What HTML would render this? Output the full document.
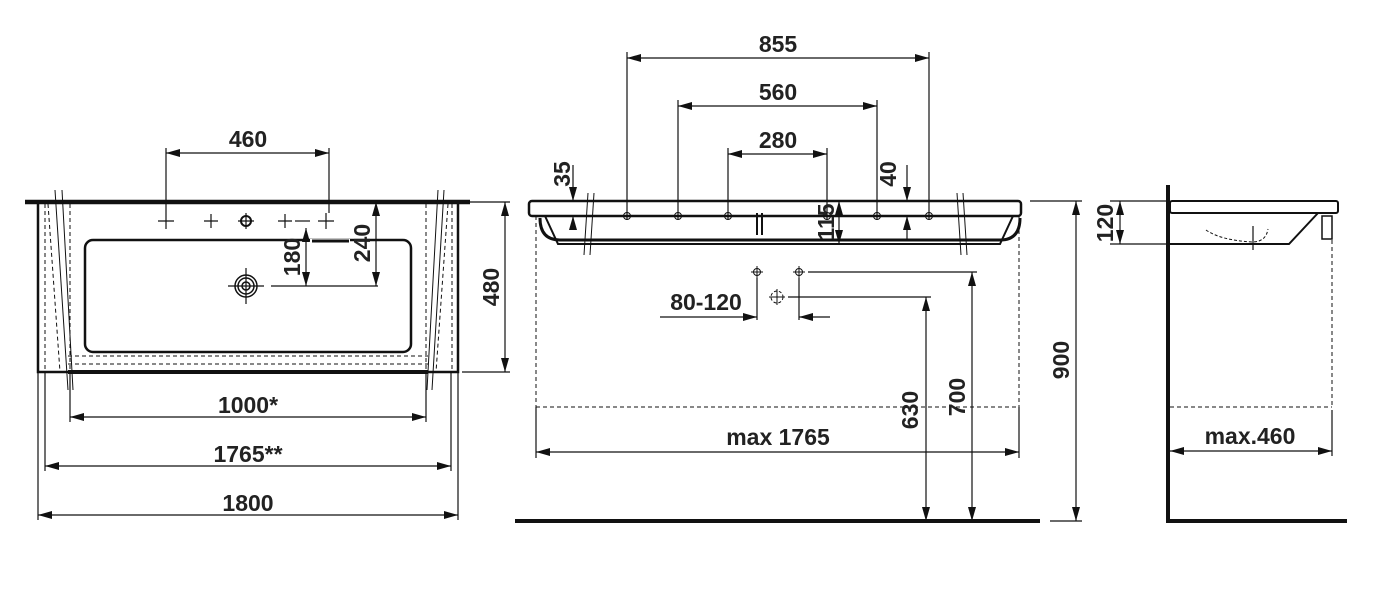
<!DOCTYPE html>
<html><head><meta charset="utf-8"><style>
html,body{margin:0;padding:0;background:#fff;}
svg{display:block;}
text{font-family:"Liberation Sans Narrow","Liberation Sans",sans-serif;font-weight:bold;font-size:23px;fill:#222;}
</style></head><body>
<svg width="1380" height="598" viewBox="0 0 1380 598" xmlns="http://www.w3.org/2000/svg">
<defs>
<marker id="a" viewBox="0 0 14 8" refX="14" refY="4" markerWidth="14" markerHeight="8" markerUnits="userSpaceOnUse" orient="auto-start-reverse"><path d="M0,0 L14,4 L0,8 Z" fill="#111"/></marker>
</defs>
<g stroke="#111" fill="none" stroke-width="1.2">
<line x1="25" y1="202" x2="470" y2="202" stroke-width="4.5"/>
<path d="M38,202 V372 H458 V202" stroke-width="2.5"/>
<line x1="68" y1="372" x2="428" y2="372" stroke-width="4"/>
<rect x="85" y="240" width="326" height="112" rx="8" stroke-width="2.5"/>
<line x1="310" y1="241" x2="350" y2="241" stroke="#fff" stroke-width="4"/>
<line x1="312" y1="241" x2="349" y2="241" stroke-width="3"/>
<g stroke-dasharray="4,3" stroke-width="1">
<line x1="45" y1="204" x2="45" y2="372"/><line x1="70" y1="204" x2="70" y2="372"/>
<line x1="426" y1="204" x2="426" y2="372"/><line x1="452" y1="204" x2="452" y2="372"/>
<line x1="68" y1="356" x2="428" y2="356"/><line x1="68" y1="364" x2="428" y2="364"/>
<line x1="48" y1="204" x2="60" y2="372"/><line x1="448" y1="204" x2="436" y2="372"/>
</g>
<path d="M55,190 L68,390 M62,190 L73,390 M438,190 L427,390 M444,190 L432,390" stroke-width="1"/>
<path d="M158,221 H174 M166,213 V229 M204,221 H218 M211,214 V228 M278,221 H292 M285,214 V228 M318,221 H334 M326,213 V229 M238,221 H254 M246,213 V229"/>
<circle cx="246" cy="221" r="5" stroke-width="2"/>
<circle cx="246" cy="286" r="11" stroke-width="1.5"/>
<circle cx="246" cy="286" r="8" stroke-width="1.5"/>
<circle cx="246" cy="286" r="4" stroke-width="1.5"/>
<path d="M228,286 H264 M246,268 V304"/>
<line x1="166" y1="148" x2="166" y2="213"/><line x1="329" y1="148" x2="329" y2="213"/>
<line x1="166" y1="153" x2="329" y2="153" marker-start="url(#a)" marker-end="url(#a)"/>
<line x1="306" y1="228" x2="306" y2="286" marker-start="url(#a)" marker-end="url(#a)"/>
<line x1="376" y1="202" x2="376" y2="286" marker-start="url(#a)" marker-end="url(#a)"/>
<line x1="271" y1="286" x2="378" y2="286"/>
<line x1="295" y1="221" x2="310" y2="221"/>
<line x1="462" y1="202" x2="510" y2="202"/><line x1="462" y1="372" x2="510" y2="372"/>
<line x1="505" y1="202" x2="505" y2="372" marker-start="url(#a)" marker-end="url(#a)"/>
<line x1="70" y1="372" x2="70" y2="422"/><line x1="426" y1="372" x2="426" y2="422"/>
<line x1="70" y1="417" x2="426" y2="417" marker-start="url(#a)" marker-end="url(#a)"/>
<line x1="45" y1="372" x2="45" y2="471"/><line x1="451" y1="372" x2="451" y2="471"/>
<line x1="45" y1="466" x2="451" y2="466" marker-start="url(#a)" marker-end="url(#a)"/>
<line x1="38" y1="372" x2="38" y2="520"/><line x1="458" y1="372" x2="458" y2="520"/>
<line x1="38" y1="515" x2="458" y2="515" marker-start="url(#a)" marker-end="url(#a)"/>

<rect x="529" y="201" width="492" height="15" rx="3" stroke-width="2.5"/>
<path d="M545,216 L558,244 H1000 L1013,216" stroke-width="2"/>
<path d="M540,218 Q540,240 560,240 H1000 Q1020,240 1020,218" stroke-width="3"/>
<g stroke-dasharray="4,3" stroke-width="1">
<line x1="536" y1="216" x2="536" y2="407"/><line x1="1019" y1="216" x2="1019" y2="407"/>
<line x1="536" y1="407" x2="1019" y2="407"/>
</g>
<path d="M588,193 L584,255 M594,193 L590,255 M957,193 L961,255 M963,193 L967,255" stroke-width="1"/>
<path d="M757,213 V235 M762,213 V235" stroke-width="2"/>
<line x1="627" y1="52" x2="627" y2="220"/><line x1="929" y1="52" x2="929" y2="220"/>
<line x1="627" y1="58" x2="929" y2="58" marker-start="url(#a)" marker-end="url(#a)"/>
<line x1="678" y1="100" x2="678" y2="220"/><line x1="877" y1="100" x2="877" y2="220"/>
<line x1="678" y1="106" x2="877" y2="106" marker-start="url(#a)" marker-end="url(#a)"/>
<line x1="728" y1="148" x2="728" y2="220"/><line x1="827" y1="148" x2="827" y2="220"/>
<line x1="728" y1="154" x2="827" y2="154" marker-start="url(#a)" marker-end="url(#a)"/>
<g stroke-width="1">
<circle cx="627" cy="216" r="3.5"/><circle cx="678" cy="216" r="3.5"/><circle cx="728" cy="216" r="3.5"/>
<circle cx="827" cy="216" r="3.5"/><circle cx="877" cy="216" r="3.5"/><circle cx="929" cy="216" r="3.5"/>
</g>
<line x1="573" y1="165" x2="573" y2="201" marker-end="url(#a)"/>
<line x1="573" y1="230" x2="573" y2="216" marker-end="url(#a)"/>
<line x1="907" y1="165" x2="907" y2="201" marker-end="url(#a)"/>
<line x1="907" y1="240" x2="907" y2="216" marker-end="url(#a)"/>
<line x1="840" y1="201" x2="860" y2="201"/>
<line x1="839" y1="201" x2="839" y2="244" marker-start="url(#a)" marker-end="url(#a)"/>
<g stroke-width="1">
<circle cx="757" cy="272" r="3.5"/><path d="M751,272 H763 M757,266 V278"/>
<circle cx="799" cy="272" r="3.5"/><path d="M793,272 H805 M799,266 V278"/>
<circle cx="777" cy="297" r="6" stroke-dasharray="3,2"/><path d="M769,297 H785 M777,289 V305"/>
</g>
<line x1="757" y1="278" x2="757" y2="320"/><line x1="799" y1="278" x2="799" y2="320"/>
<line x1="660" y1="317" x2="757" y2="317" marker-end="url(#a)"/>
<line x1="830" y1="317" x2="799" y2="317" marker-end="url(#a)"/>
<line x1="808" y1="272" x2="977" y2="272"/><line x1="788" y1="297" x2="931" y2="297"/>
<line x1="926" y1="297" x2="926" y2="521" marker-start="url(#a)" marker-end="url(#a)"/>
<line x1="972" y1="272" x2="972" y2="521" marker-start="url(#a)" marker-end="url(#a)"/>
<line x1="536" y1="407" x2="536" y2="458"/><line x1="1019" y1="407" x2="1019" y2="458"/>
<line x1="536" y1="452" x2="1019" y2="452" marker-start="url(#a)" marker-end="url(#a)"/>
<line x1="1030" y1="201" x2="1082" y2="201"/>
<line x1="1076" y1="201" x2="1076" y2="521" marker-start="url(#a)" marker-end="url(#a)"/>
<line x1="1050" y1="521" x2="1082" y2="521"/>
<line x1="515" y1="521" x2="1040" y2="521" stroke-width="4"/>

<line x1="1168" y1="185" x2="1168" y2="523" stroke-width="4"/>
<line x1="1166" y1="521" x2="1347" y2="521" stroke-width="4"/>
<rect x="1170" y="201" width="168" height="12" rx="2" stroke-width="2"/>
<path d="M1170,244 H1289 L1318,213" stroke-width="2"/>
<rect x="1322" y="216" width="10" height="23" stroke-width="1.5"/>
<path d="M1206,230 Q1220,240 1252,242 Q1266,242 1268,229" stroke-dasharray="3,2" stroke-width="1"/>
<line x1="1253" y1="226" x2="1253" y2="250"/>
<g stroke-dasharray="4,3" stroke-width="1">
<line x1="1332" y1="240" x2="1332" y2="407"/><line x1="1170" y1="407" x2="1332" y2="407"/>
</g>
<line x1="1332" y1="410" x2="1332" y2="456"/>
<line x1="1170" y1="451" x2="1332" y2="451" marker-start="url(#a)" marker-end="url(#a)"/>
<line x1="1110" y1="201" x2="1166" y2="201"/><line x1="1110" y1="244" x2="1166" y2="244"/>
<line x1="1120" y1="201" x2="1120" y2="244" marker-start="url(#a)" marker-end="url(#a)"/>
</g>
<text x="248" y="147" text-anchor="middle">460</text>
<text x="248" y="413" text-anchor="middle">1000*</text>
<text x="248" y="462" text-anchor="middle">1765**</text>
<text x="248" y="511" text-anchor="middle">1800</text>
<text transform="translate(300,257) rotate(-90)" text-anchor="middle">180</text>
<text transform="translate(370,243) rotate(-90)" text-anchor="middle">240</text>
<text transform="translate(499,287) rotate(-90)" text-anchor="middle">480</text>
<text x="778" y="52" text-anchor="middle">855</text>
<text x="778" y="100" text-anchor="middle">560</text>
<text x="778" y="148" text-anchor="middle">280</text>
<text transform="translate(570,174) rotate(-90)" text-anchor="middle">35</text>
<text transform="translate(896,174) rotate(-90)" text-anchor="middle">40</text>
<text transform="translate(834,222) rotate(-90)" text-anchor="middle">115</text>
<text x="706" y="310" text-anchor="middle">80-120</text>
<text x="778" y="445" text-anchor="middle">max 1765</text>
<text transform="translate(918,410) rotate(-90)" text-anchor="middle">630</text>
<text transform="translate(965,397) rotate(-90)" text-anchor="middle">700</text>
<text transform="translate(1069,360) rotate(-90)" text-anchor="middle">900</text>
<text transform="translate(1113,223) rotate(-90)" text-anchor="middle">120</text>
<text x="1250" y="444" text-anchor="middle">max.460</text>
</svg>
</body></html>
